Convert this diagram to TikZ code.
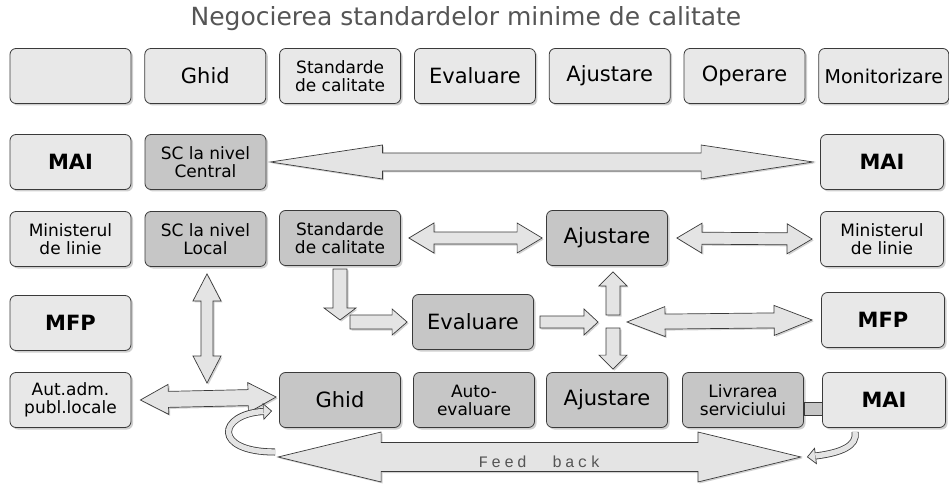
\documentclass[tikz,border=0pt]{standalone}
\usepackage{fontspec}
\setmainfont{DejaVu Sans}
\newfontfamily\fbfont[LetterSpace=20]{Liberation Mono}
\usetikzlibrary{positioning, calc, shadows, arrows.meta}

\definecolor{boxlight}{HTML}{E8E8E8}
\definecolor{boxdark}{HTML}{C6C6C6}
\definecolor{edgegray}{HTML}{3A3A3A}
\definecolor{arrowfill}{HTML}{E4E4E4}
\definecolor{titlegray}{HTML}{555555}

% block arrows between two points: shaft half, head half, head length
\newcommand{\dblarrow}[5]{%
  \coordinate (da) at (#1);
  \coordinate (db) at (#2);
  \coordinate (dc) at ($(da)!#5!(db)$);
  \coordinate (dd) at ($(db)!#5!(da)$);
  \filldraw[blockarrow] (da) -- ($(dc)!#4!90:(db)$) -- ($(dc)!#3!90:(db)$)
    -- ($(dd)!#3!-90:(da)$) -- ($(dd)!#4!-90:(da)$) -- (db)
    -- ($(dd)!#4!90:(da)$) -- ($(dd)!#3!90:(da)$)
    -- ($(dc)!#3!-90:(db)$) -- ($(dc)!#4!-90:(db)$) -- cycle;
}
\newcommand{\sglarrow}[5]{%
  \coordinate (da) at (#1);
  \coordinate (db) at (#2);
  \coordinate (dd) at ($(db)!#5!(da)$);
  \filldraw[blockarrow] ($(da)!#3!90:(db)$) -- ($(dd)!#3!-90:(da)$)
    -- ($(dd)!#4!-90:(da)$) -- (db) -- ($(dd)!#4!90:(da)$)
    -- ($(dd)!#3!90:(da)$) -- ($(da)!#3!-90:(db)$) -- cycle;
}

\tikzset{
  box/.style={draw=edgegray, line width=0.8pt, rounded corners=6pt,
    minimum width=121pt, minimum height=55pt, align=center, inner sep=2pt,
    drop shadow={shadow xshift=2pt, shadow yshift=-2pt, fill=gray!75}},
  lightbox/.style={box, fill=boxlight},
  darkbox/.style={box, fill=boxdark},
  onetext/.style={font=\fontsize{21}{22}\selectfont},
  twotext/.style={font=\fontsize{17}{18}\selectfont},
  boldtext/.style={font=\fontsize{21}{22}\selectfont\bfseries},
  blockarrow/.style={draw=edgegray, line width=0.7pt, fill=arrowfill,
    drop shadow={shadow xshift=1.5pt, shadow yshift=-1.5pt, fill=gray!70}},
  curvearrow/.style={line width=7pt, draw=edgegray,
    -{Triangle[length=9pt, width=17pt, fill=arrowfill, line width=0.7pt]}},
  curveinner/.style={line width=5.4pt, draw=arrowfill, shorten >=8.5pt},
}

\begin{document}
\begin{tikzpicture}[x=1pt, y=-1pt]
  \useasboundingbox (0,0) rectangle (949,486);

  % Title
  \node[font=\fontsize{25}{28}\selectfont, text=titlegray] (title) at (466,19)
    {Negocierea standardelor minime de calitate};

  % Top row
  \node[lightbox] (top0) at (70.5,76) {};
  \node[lightbox, onetext, right=13pt of top0] (topGhid) {Ghid};
  \node[lightbox, twotext, right=13pt of topGhid] (topStd) {Standarde\\de calitate};
  \node[lightbox, onetext, right=13pt of topStd] (topEval) {Evaluare};
  \node[lightbox, onetext, right=13pt of topEval] (topAjus) {Ajustare};
  \node[lightbox, onetext, right=13pt of topAjus] (topOper) {Operare};
  \node[lightbox, font=\fontsize{19}{22}\selectfont, minimum width=130pt,
    right=13pt of topOper] (topMon) {Monitorizare};

  % Left column
  \node[lightbox, boldtext] (MAIl) at (70.5,162) {MAI};
  \node[lightbox, twotext] (MINl) at (70.5,239) {Ministerul\\de linie};
  \node[lightbox, boldtext] (MFPl) at (70.5,323) {MFP};
  \node[lightbox, twotext] (AUTl) at (70.5,400) {Aut.adm.\\publ.locale};

  % Right column
  \node[lightbox, boldtext, minimum width=123pt] (MAIr) at (882,162) {MAI};
  \node[lightbox, twotext, minimum width=123pt] (MINr) at (882,239) {Ministerul\\de linie};
  \node[lightbox, boldtext, minimum width=123pt] (MFPr) at (883,320) {MFP};
  \node[lightbox, boldtext, minimum width=123pt] (MAIb) at (884,400) {MAI};

  % Structures
  \node[darkbox, twotext] (SCc) at (205.5,162) {SC la nivel\\Central};
  \node[darkbox, twotext] (SCl) at (205.5,239) {SC la nivel\\Local};

  % Process
  \node[darkbox, twotext] (Std) at (340,238) {Standarde\\de calitate};
  \node[darkbox, onetext] (Ajus) at (607,238) {Ajustare};
  \node[darkbox, onetext] (Eval) at (473,322) {Evaluare};
  \node[darkbox, onetext] (Ghid) at (340,400) {Ghid};
  \node[darkbox, twotext] (Auto) at (474,400) {Auto-\\evaluare};
  \node[darkbox, onetext] (AjusB) at (607,400) {Ajustare};
  \node[darkbox, twotext] (Livr) at (743,400) {Livrarea\\serviciului};

  % Link Livrarea - MAI
  \filldraw[draw=edgegray, line width=0.7pt, fill=boxdark]
    ([yshift=-2pt]Livr.east) rectangle ([yshift=-15pt]MAIb.west);

  % Arrows
  \dblarrow{[xshift=4pt]SCc.east}{[xshift=-7pt]MAIr.west}{9pt}{17pt}{112pt}
  \dblarrow{[xshift=8pt]Std.east}{[xshift=-4pt]Ajus.west}{6pt}{15pt}{25pt}
  \dblarrow{[xshift=9pt]Ajus.east}{[xshift=-8pt]MINr.west}{6pt}{15pt}{25pt}
  \coordinate (hub) at ($(AUTl.east)!0.5!(Ghid.west)$);
  \dblarrow{[xshift=9pt]AUTl.east}{[xshift=-3pt,yshift=3pt]Ghid.west}{8pt}{15pt}{28pt}
  \dblarrow{[xshift=1.5pt,yshift=-7pt]SCl.south}{[xshift=1.5pt,yshift=17pt]hub -| SCl.south}{6pt}{14pt}{27pt}
  \sglarrow{[xshift=10pt]Std.south |- Eval.west}{[xshift=-5pt]Eval.west}{7pt}{13pt}{15pt}
  \sglarrow{[yshift=-3pt]Std.south}{[yshift=2pt]Std.south |- Eval.west}{7pt}{16pt}{12pt}
  \coordinate (junc) at ([xshift=6pt]Ajus.south |- Eval.east);
  \sglarrow{[xshift=6pt]Eval.east}{[xshift=-15pt]junc}{6pt}{13pt}{14pt}
  \sglarrow{[yshift=7pt]junc}{[xshift=6pt,yshift=-6pt]Ajus.south}{7pt}{14pt}{14pt}
  \sglarrow{[yshift=-6pt]junc}{[xshift=6pt,yshift=3pt]AjusB.north}{7pt}{14pt}{14pt}
  \dblarrow{[xshift=14pt]junc}{[xshift=-9pt]MFPr.west}{7.5pt}{15pt}{38pt}

  % Feed back
  \coordinate (fbL) at ([xshift=-1pt,yshift=-57pt]Ghid.west);
  \coordinate (fbR) at ([xshift=-3pt,yshift=-57pt]Livr.east);
  \dblarrow{fbL}{fbR}{14.5pt}{25pt}{103pt}
  \node[font=\fbfont\fontsize{16}{18}\selectfont, text=titlegray] (fbtext)
    at ([yshift=-5pt]$(fbL)!0.5!(fbR)$) {Feed\ \ back};

  % Curved arrows
  \coordinate (cl1) at ([xshift=-4pt,yshift=-52pt]Ghid.west);
  \coordinate (cl2) at ([xshift=-7pt,yshift=-11pt]Ghid.west);
  \draw[curvearrow] (cl1) .. controls (212,452) and (218,414) .. (cl2);
  \draw[curveinner] (cl1) .. controls (212,452) and (218,414) .. (cl2);
  \coordinate (cr1) at ([xshift=-29pt,yshift=-4pt]MAIb.south);
  \coordinate (cr2) at ([xshift=6pt]fbR);
  \draw[curvearrow] (cr1) .. controls (858,446) and (840,453) .. (cr2);
  \draw[curveinner] (cr1) .. controls (858,446) and (840,453) .. (cr2);

\end{tikzpicture}
\end{document}
